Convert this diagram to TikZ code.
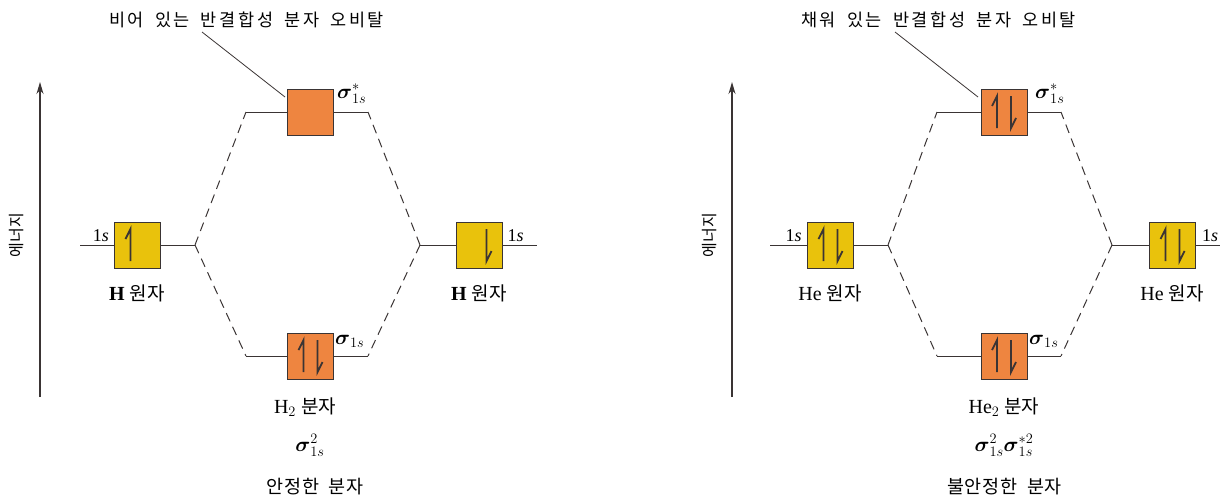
\documentclass[tikz,border=0pt]{standalone}
\usepackage{amsmath}
\usepackage{fontspec}
\setmainfont{Liberation Serif}
\newfontfamily\kr[WordSpace=1.8]{Noto Sans CJK KR}
\newfontfamily\kran[WordSpace=1.7,LetterSpace=15]{Noto Sans CJK KR}
\newfontfamily\krb[WordSpace=1.8,LetterSpace=5]{Noto Sans CJK KR}
\usetikzlibrary{arrows.meta}
\definecolor{yel}{HTML}{E9C20C}
\definecolor{org}{HTML}{EE8540}
\definecolor{ln}{HTML}{3A3434}
\tikzset{
 orb/.style={draw=ln, line width=1pt, minimum width=46pt, minimum height=46pt, inner sep=0pt},
 aorb/.style={orb, fill=yel},
 morb/.style={orb, fill=org},
 lvl/.style={draw=ln, line width=1pt},
 dsh/.style={draw=ln, line width=1pt, dash pattern=on 9pt off 6pt},
 lab/.style={font=\fontsize{20}{24}\selectfont, inner sep=0pt},
 slab/.style={font=\fontsize{18}{22}\selectfont, inner sep=0pt},
 klab/.style={font=\fontsize{18.5}{22}\selectfont\krb, inner sep=0pt},
 anlab/.style={font=\fontsize{17.5}{20}\selectfont\kran, inner sep=0pt},
 axlab/.style={font=\fontsize{16}{18}\selectfont\kr, inner sep=0pt},
 lead/.style={draw=ln, line width=0.8pt},
 axis/.style={draw=ln, line width=1.2pt, -{Stealth[length=12pt,width=7pt]}},
 pics/uph/.style={code={\draw[ln, line width=1.8pt, line join=miter] (-7,16) -- (-7,-16) -- (-12,-6);}},
 pics/dnh/.style={code={\draw[ln, line width=1.8pt, line join=miter] (7,-16) -- (7,16) -- (12,6);}},
}
\newcommand\kw[1]{{\kr\fontsize{19}{22}\selectfont #1}}
\begin{document}
\begin{tikzpicture}[x=1pt,y=-1pt]
\useasboundingbox (0,0) rectangle (1220,499);
% ===== Left diagram (H2) =====
\coordinate (ab) at (40,397); \coordinate (at) at (40,82);
\draw[axis] (ab) -- (at);
\node[axlab, rotate=90] (en) at (16.5,235) {에너지};

\node[aorb] (hl) at (137.5,245) {};
\pic at (hl) {uph};
\coordinate (hl0) at (80,245); \coordinate (jl) at (195,245);
\draw[lvl] (hl0) -- (hl.west); \draw[lvl] (hl.east) -- (jl);
\node[slab, anchor=base] (hl1s) at (101,241) {1\textit{s}};
\node[lab, anchor=base] (hlt) at (137,300) {\textbf{H} \kw{원자}};

\node[aorb] (hr) at (479.5,245) {};
\pic at (hr) {dnh};
\coordinate (jr) at (420,245); \coordinate (hr0) at (537,245);
\draw[lvl] (jr) -- (hr.west); \draw[lvl] (hr.east) -- (hr0);
\node[slab, anchor=base] (hr1s) at (515.5,241) {1\textit{s}};
\node[lab, anchor=base] (hrt) at (479,300) {\textbf{H} \kw{원자}};

\node[morb] (ms) at (310.5,112) {};
\coordinate (msl) at (246,112); \coordinate (msr) at (368,112);
\draw[lvl] (msl) -- (ms.west); \draw[lvl] (ms.east) -- (msr);
\node[lab, anchor=base west] (mslab) at (337,98) {$\boldsymbol{\sigma}^{*}_{1s}$};

\node[morb] (mb) at (310.5,356) {};
\pic at (mb) {uph}; \pic at (mb) {dnh};
\coordinate (mbl) at (246,356); \coordinate (mbr) at (368,356);
\draw[lvl] (mbl) -- (mb.west); \draw[lvl] (mb.east) -- (mbr);
\node[lab, anchor=base west] (mblab) at (335,344) {$\boldsymbol{\sigma}_{1s}$};

\draw[dsh] (jl) -- (msl); \draw[dsh] (jl) -- (mbl);
\draw[dsh] (jr) -- (msr); \draw[dsh] (jr) -- (mbr);

\node[lab, anchor=base] (h2) at (305,413) {H$_2$ \kw{분자}};
\node[lab, anchor=base] (h2c) at (310,451) {$\boldsymbol{\sigma}^{2}_{1s}$};
\node[klab] (h2s) at (315,487) {안정한 분자};

\node[anlab] (ann1) at (246.5,20) {비어 있는 반결합성 분자 오비탈};
\coordinate (ann1a) at (202,32); \coordinate (ann1b) at (285,97);
\draw[lead] (ann1a) -- (ann1b);

% ===== Right diagram (He2) =====
\coordinate (bb) at (732,397); \coordinate (bt) at (732,82);
\draw[axis] (bb) -- (bt);
\node[axlab, rotate=90] (en2) at (710,235) {에너지};

\node[aorb] (el) at (830.5,245) {};
\pic at (el) {uph}; \pic at (el) {dnh};
\coordinate (el0) at (770,245); \coordinate (kl) at (888,245);
\draw[lvl] (el0) -- (el.west); \draw[lvl] (el.east) -- (kl);
\node[slab, anchor=base] (el1s) at (793.5,241) {1\textit{s}};
\node[lab, anchor=base] (elt) at (830,300) {He \kw{원자}};

\node[aorb] (er) at (1172.5,245) {};
\pic at (er) {uph}; \pic at (er) {dnh};
\coordinate (kr) at (1112,245); \coordinate (er0) at (1230,245);
\draw[lvl] (kr) -- (er.west); \draw[lvl] (er.east) -- (er0);
\node[slab, anchor=base] (er1s) at (1210,241) {1\textit{s}};
\node[lab, anchor=base] (ert) at (1172,300) {He \kw{원자}};

\node[morb] (ns) at (1004,112) {};
\pic at (ns) {uph}; \pic at (ns) {dnh};
\coordinate (nsl) at (937,112); \coordinate (nsr) at (1061,112);
\draw[lvl] (nsl) -- (ns.west); \draw[lvl] (ns.east) -- (nsr);
\node[lab, anchor=base west] (nslab) at (1035,98) {$\boldsymbol{\sigma}^{*}_{1s}$};

\node[morb] (nb) at (1004,356) {};
\pic at (nb) {uph}; \pic at (nb) {dnh};
\coordinate (nbl) at (937,356); \coordinate (nbr) at (1061,356);
\draw[lvl] (nbl) -- (nb.west); \draw[lvl] (nb.east) -- (nbr);
\node[lab, anchor=base west] (nblab) at (1029,344) {$\boldsymbol{\sigma}_{1s}$};

\draw[dsh] (kl) -- (nsl); \draw[dsh] (kl) -- (nbl);
\draw[dsh] (kr) -- (nsr); \draw[dsh] (kr) -- (nbr);

\node[lab, anchor=base] (he2) at (1004,413) {He$_2$ \kw{분자}};
\node[lab, anchor=base] (he2c) at (1004,451) {$\boldsymbol{\sigma}^{2}_{1s}\boldsymbol{\sigma}^{*2}_{1s}$};
\node[klab] (he2s) at (1004.5,487) {불안정한 분자};

\node[anlab] (ann2) at (938.5,20) {채워 있는 반결합성 분자 오비탈};
\coordinate (ann2a) at (895,32); \coordinate (ann2b) at (978,97);
\draw[lead] (ann2a) -- (ann2b);
\end{tikzpicture}
\end{document}
